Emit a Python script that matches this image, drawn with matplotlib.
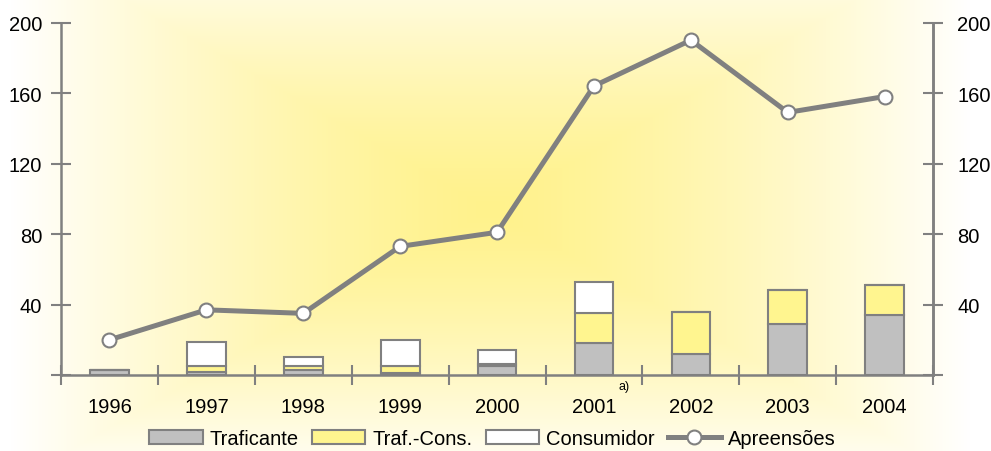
import numpy as np
import matplotlib
matplotlib.use("Agg")
import matplotlib.pyplot as plt

anos = ["1996", "1997", "1998", "1999", "2000", "2001", "2002", "2003", "2004"]
traficante = [3, 2, 3, 1, 5, 18, 12, 29, 34]
traf_cons = [0, 3, 2, 4, 1, 17, 24, 19, 17]
consumidor = [0, 14, 5, 15, 8, 18, 0, 0, 0]
apreensoes = [20, 37, 35, 73, 81, 164, 190, 149, 158]

cinza = "#808080"
plt.rcParams["font.family"] = ["Liberation Sans", "DejaVu Sans"]

fig = plt.figure(figsize=(9.91, 4.52), dpi=100)

# fundo com gradiente retangular a partir do centro
bg = fig.add_axes([0, 0, 1, 1], zorder=-10)
W, H = 991, 452
xx, yy = np.meshgrid(np.arange(W), np.arange(H))
t = np.maximum(np.abs(xx - 490) / 480.0, np.abs(yy - 210) / 275.0)
t = np.clip(t, 0, 1) ** 1.35
centro = np.array([255, 242, 140]) / 255.0
img = centro[None, None, :] * (1 - t[..., None]) + t[..., None]
bg.imshow(img, aspect="auto", extent=[0, 1, 0, 1], origin="upper")
bg.axis("off")

ax = fig.add_axes([0.0616, 0.168, 0.880, 0.780])
ax.patch.set_alpha(0)
x = np.arange(len(anos))
larg = 0.4
kw = dict(width=larg, edgecolor=cinza, linewidth=1.5)
b1 = ax.bar(x, traficante, color="#C0C0C0", label="Traficante", **kw)
base2 = np.array(traficante)
b2 = ax.bar(x, traf_cons, bottom=base2, color="#FFF58F", label="Traf.-Cons.", **kw)
base3 = base2 + np.array(traf_cons)
b3 = ax.bar(x, consumidor, bottom=base3, color="white", label="Consumidor", **kw)
ln, = ax.plot(x, apreensoes, color=cinza, lw=3.6, marker="o", markersize=10,
              markerfacecolor="white", markeredgecolor=cinza, markeredgewidth=1.5,
              label="Apreensões", zorder=5)

ax.set_xlim(-0.5, len(anos) - 0.5)
ax.set_ylim(0, 200)
yt = [0, 40, 80, 120, 160, 200]
ylab = ["", "40", "80", "120", "160", "200"]
ax.set_yticks(yt)
ax.set_yticklabels(ylab)
ax.set_xticks(x)
ax.set_xticklabels(anos)
ax.set_xticks(np.arange(-0.5, len(anos), 1), minor=True)
ax.tick_params(axis="x", which="major", length=0, pad=16, labelsize=14.5)
ax.tick_params(axis="x", which="minor", direction="inout", length=14, width=1.5, color=cinza)
ax.tick_params(axis="y", direction="inout", length=15, width=1.5, color=cinza, pad=6, labelsize=14.5)
for s in ["left", "bottom", "right"]:
    ax.spines[s].set_color(cinza)
    ax.spines[s].set_linewidth(1.8)
ax.spines["top"].set_visible(False)

ax2 = ax.twinx()
ax2.set_ylim(0, 200)
ax2.set_yticks(yt)
ax2.set_yticklabels(ylab)
ax2.tick_params(axis="y", direction="inout", length=15, width=1.5, color=cinza, pad=10, labelsize=14.5)
for s in ["left", "top", "bottom"]:
    ax2.spines[s].set_visible(False)
ax2.spines["right"].set_color(cinza)
ax2.spines["right"].set_linewidth(1.8)

ax.text(5.31, -6.2, "a)", fontsize=9, ha="center", va="center", clip_on=False)

fig.legend(handles=[b1, b2, b3, ln], loc="center", bbox_to_anchor=(0.497, 0.028),
           ncol=4, frameon=False, fontsize=14.5, handlelength=2.65, handleheight=0.7,
           handletextpad=0.35, columnspacing=0.65, borderaxespad=0, borderpad=0)

fig.savefig("out.png", dpi=100)
